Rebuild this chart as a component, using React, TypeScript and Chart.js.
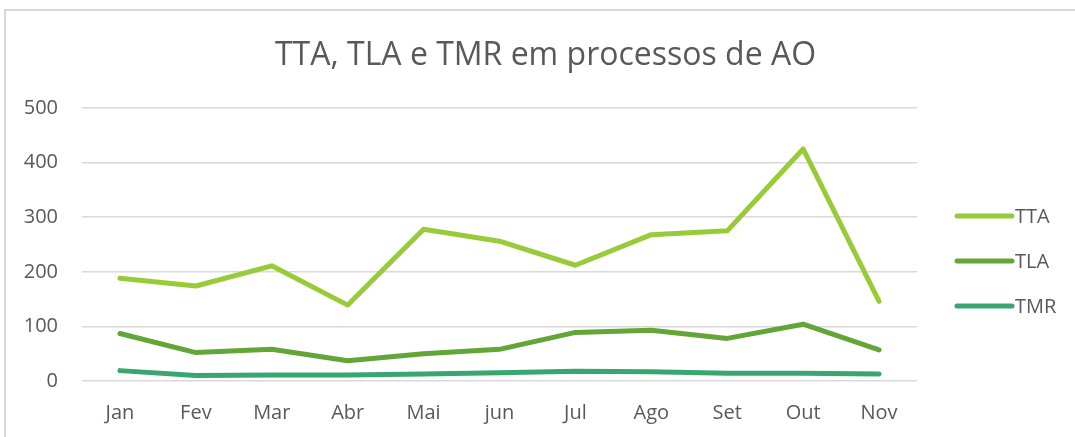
import React, { useEffect, useRef } from "react";
import { Chart, registerables } from "chart.js";

Chart.register(...registerables);

const categories = ["Jan", "Fev", "Mar", "Abr", "Mai", "jun", "Jul", "Ago", "Set", "Out", "Nov"];
const ttaValues = [188, 174, 211, 139, 278, 256, 212, 268, 275, 425, 146];
const tlaValues = [87, 52, 58, 37, 50, 58, 89, 93, 78, 104, 57];
const tmrValues = [19, 10, 11, 11, 13, 15, 18, 17, 14, 14, 13];
const seriesNames = ["TTA", "TLA", "TMR"];
const seriesColors = ["#99CB38", "#63A537", "#37A76F"];
const yTicks = [0, 100, 200, 300, 400, 500];
const titleText = "TTA, TLA e TMR em processos de AO";

const FONT = "'Open Sans', sans-serif";
const TEXT_COLOR = "#595959";

const frameTitleLegend = {
  id: "frameTitleLegend",
  beforeDraw(chart: any) {
    const ctx = chart.ctx;
    ctx.save();
    ctx.fillStyle = "#ffffff";
    ctx.fillRect(0, 0, chart.width, chart.height);
    ctx.strokeStyle = "#d9d9d9";
    ctx.lineWidth = 2;
    ctx.strokeRect(5, 10, chart.width + 50, chart.height + 50);
    ctx.fillStyle = TEXT_COLOR;
    ctx.font = `32px ${FONT}`;
    ctx.textAlign = "center";
    ctx.textBaseline = "middle";
    ctx.fillText(titleText, chart.width / 2 + 8, 56);
    ctx.restore();
  },
  afterDraw(chart: any) {
    const ctx = chart.ctx;
    const area = chart.chartArea;
    ctx.save();
    ctx.font = `20px ${FONT}`;
    ctx.textBaseline = "middle";
    ctx.textAlign = "left";
    const x0 = area.right + 40;
    const x1 = x0 + 55;
    const startY = 216;
    const gap = 45;
    chart.data.datasets.forEach((ds: any, i: number) => {
      const y = startY + i * gap;
      ctx.strokeStyle = ds.borderColor;
      ctx.lineWidth = 5;
      ctx.lineCap = "round";
      ctx.beginPath();
      ctx.moveTo(x0, y);
      ctx.lineTo(x1, y);
      ctx.stroke();
      ctx.fillStyle = TEXT_COLOR;
      ctx.fillText(ds.label, x1 + 3, y + 1);
    });
    ctx.restore();
  },
};

export default function App() {
  const ref = useRef<HTMLCanvasElement | null>(null);

  useEffect(() => {
    if (!ref.current) return;
    const seriesData = [ttaValues, tlaValues, tmrValues];
    const chart = new Chart(ref.current, {
      type: "line",
      data: {
        labels: categories,
        datasets: seriesNames.map((name, i) => ({
          label: name,
          data: seriesData[i],
          borderColor: seriesColors[i],
          backgroundColor: seriesColors[i],
          borderWidth: 5,
          borderCapStyle: "round",
          borderJoinStyle: "round",
          pointRadius: 0,
          tension: 0,
          fill: false,
        })),
      },
      options: {
        responsive: false,
        animation: false,
        layout: { padding: { top: 108, left: 0, right: 158, bottom: 12 } },
        plugins: {
          legend: { display: false },
          tooltip: { enabled: false },
          title: { display: false },
        },
        scales: {
          x: {
            offset: true,
            afterFit(scale: any) {
              scale.height = 44;
            },
            grid: { display: false, drawTicks: false },
            border: { display: false },
            ticks: {
              color: TEXT_COLOR,
              font: { family: FONT, size: 20 },
              padding: 20,
              maxRotation: 0,
            },
          },
          y: {
            min: 0,
            max: 500,
            afterFit(scale: any) {
              scale.width = 82;
            },
            afterBuildTicks(scale: any) {
              scale.ticks = yTicks.map((v) => ({ value: v }));
            },
            grid: { color: "#d9d9d9", lineWidth: 1.5, drawTicks: false },
            border: { display: false },
            ticks: {
              color: TEXT_COLOR,
              font: { family: FONT, size: 20 },
              padding: 24,
            },
          },
        },
      },
      plugins: [frameTitleLegend],
    });
    return () => chart.destroy();
  }, []);

  return (
    <div style={{ position: "fixed", left: 0, top: 0, width: 1075, height: 437 }}>
      <canvas ref={ref} width={1075} height={437} style={{ display: "block" }} />
    </div>
  );
}
